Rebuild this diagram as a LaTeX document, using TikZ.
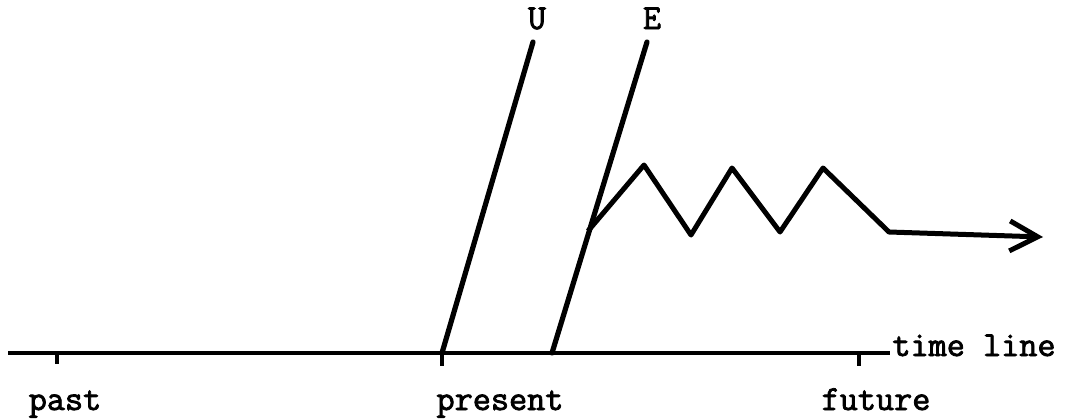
\documentclass[tikz,border=0pt]{standalone}
\usepackage{fontspec}
\newfontfamily\twfont[FakeBold=2.2]{Latin Modern Mono}
\usetikzlibrary{arrows.meta}
\begin{document}
\begin{tikzpicture}[x=0.5pt,y=-0.5pt,
  lbl/.style={font=\fontsize{17.6pt}{20pt}\twfont,inner sep=0pt},
  axis/.style={line width=1.9pt},
  tick/.style={line width=1.9pt},
  ray/.style={line width=2.6pt,line cap=round},
  zig/.style={line width=2.5pt,line join=round,-{Straight Barb[length=14pt,width=15pt]}}]
\useasboundingbox (0,0) rectangle (1076,418);
% time line
\coordinate (t0) at (8,353);
\coordinate (t1) at (890,353);
\node[lbl,anchor=base west] (tl) at (892,356) {time line};
\draw[axis] (t0) -- (t1);
% ticks
\coordinate (pa) at (57,353);   \coordinate (pa2) at (57,364);
\coordinate (pr) at (442,353);  \coordinate (pr2) at (442,366);
\coordinate (fu) at (859,353);  \coordinate (fu2) at (859,366);
\draw[tick] (pa) -- (pa2);
\draw[tick] (pr) -- (pr2);
\draw[tick] (fu) -- (fu2);
% labels
\node[lbl,anchor=base] (past) at (65,410) {past};
\node[lbl,anchor=base] (present) at (500,410) {present};
\node[lbl,anchor=base] (future) at (876,410) {future};
% U and E
\coordinate (u0) at (442,353); \coordinate (u1) at (533,42);
\coordinate (e0) at (552,353); \coordinate (e1) at (647,42);
\node[lbl,anchor=base] (U) at (537,29) {U};
\node[lbl,anchor=base] (E) at (652,29) {E};
\draw[ray] (u0) -- (u1);
\draw[ray] (e0) -- (e1);
% zigzag
\coordinate (z0) at (588,231);
\coordinate (z1) at (644,165);
\coordinate (z2) at (691,235);
\coordinate (z3) at (732,168);
\coordinate (z4) at (780,232);
\coordinate (z5) at (823,168);
\coordinate (z6) at (889,232);
\coordinate (z7) at (1043,237);
\draw[zig] (z0) -- (z1) -- (z2) -- (z3) -- (z4) -- (z5) -- (z6) -- (z7);
\end{tikzpicture}
\end{document}
